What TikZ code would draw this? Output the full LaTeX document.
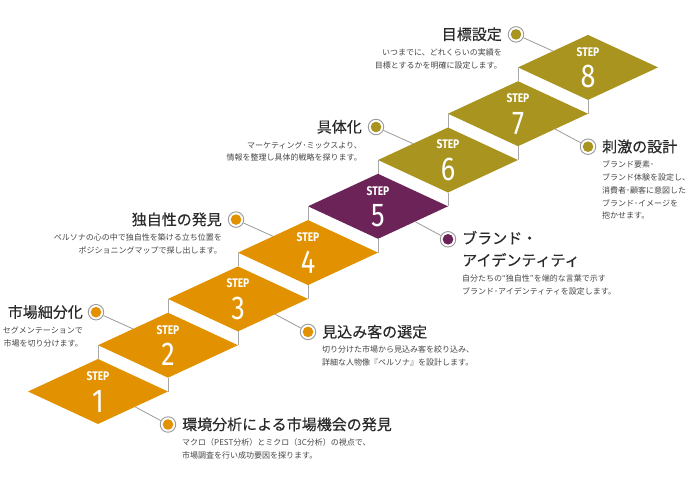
\documentclass[tikz,border=0pt]{standalone}
\usepackage{fontspec}
\setmainfont{Noto Sans CJK JP}
\newfontfamily\ttlfont[FakeBold=0.35]{Noto Sans CJK JP}
\newfontfamily\stepfont[FakeStretch=0.82]{Fira Sans}
\definecolor{orng}{HTML}{E29200}
\definecolor{purp}{HTML}{6C2358}
\definecolor{olive}{HTML}{A8941F}
\definecolor{linegray}{HTML}{9A9A9A}
\definecolor{risergray}{HTML}{A8A8A8}
\definecolor{txtdark}{HTML}{2A2A2A}
\definecolor{txtgray}{HTML}{444444}
\begin{document}
\begin{tikzpicture}[x=1pt,y=-1pt,
  conn/.style={draw=linegray, line width=0.8pt},
  riser/.style={draw=risergray, line width=0.8pt},
  ring/.style={circle, draw=linegray, line width=0.9pt, fill=white, minimum size=15.5pt, inner sep=0pt},
  ttl/.style={font=\ttlfont\fontsize{15}{22}\selectfont, text=txtdark, inner sep=0pt},
  dsc/.style={font=\fontsize{8}{12.8}\selectfont, text=txtgray, inner sep=0pt},
  steplbl/.style={font=\stepfont\bfseries\fontsize{12.5}{12.5}\selectfont, text=white, inner sep=0pt},
  stepnum/.style={font=\stepfont\fontsize{33}{33}\selectfont, text=white, inner sep=0pt}]
\useasboundingbox (0,0) rectangle (690,490);
\foreach \n/\c in {1/orng,2/orng,3/orng,4/orng,5/purp,6/olive,7/olive,8/olive}{
  \pgfmathsetmacro\cx{98+70*(\n-1)}
  \pgfmathsetmacro\cy{391.5-46.3*(\n-1)}
  \fill[\c] (\cx-70,\cy) -- (\cx,\cy-32.5) -- (\cx+70,\cy) -- (\cx,\cy+32.5) -- cycle;
  \node[steplbl] (s\n) at (\cx,\cy-15.5) {STEP};
  \node[stepnum] (n\n) at (\cx,\cy+9.5) {\n};
  \ifnum\n>1
    \draw[riser] (\cx-70,\cy) -- (\cx-70,\cy+13.8);
    \draw[riser] (\cx,\cy+32.5) -- (\cx,\cy+46.3);
  \fi
  \ifodd\n
    \coordinate (e\n) at (\cx+37,\cy+15.3);
  \else
    \coordinate (e\n) at (\cx-35,\cy-16.3);
  \fi
}
% callout rings
\node[ring] (k1) at (168,424.5) {};
\node[ring] (k2) at (96,312.2) {};
\node[ring] (k3) at (308,331.9) {};
\node[ring] (k4) at (236,219.6) {};
\node[ring] (k5) at (448,239.3) {};
\node[ring] (k6) at (376,127) {};
\node[ring] (k7) at (588,146.7) {};
\node[ring] (k8) at (516,34.4) {};
\foreach \n/\c in {1/orng,2/orng,3/orng,4/orng,5/purp,6/olive,7/olive,8/olive}{
  \fill[\c] (k\n.center) circle (5.3pt);
  \draw[conn] (e\n) -- (k\n);
}
% step 1
\node[ttl, anchor=base west] (t1) at (182,430) {環境分析による市場機会の発見};
\node[dsc, anchor=base west, align=left] (d1) at (182,458.3) {マクロ（PEST分析）とミクロ（3C分析）の視点で、\\市場調査を行い成功要因を探ります。};
% step 2
\node[ttl, anchor=base east] (t2) at (83,317.7) {市場細分化};
\node[dsc, anchor=base east, align=right] (d2) at (83,346) {セグメンテーションで\\市場を切り分けます。};
% step 3
\node[ttl, anchor=base west] (t3) at (322,337.4) {見込み客の選定};
\node[dsc, anchor=base west, align=left] (d3) at (322,365.7) {切り分けた市場から見込み客を絞り込み、\\詳細な人物像『ペルソナ』を設計します。};
% step 4
\node[ttl, anchor=base east] (t4) at (222,225.1) {独自性の発見};
\node[dsc, anchor=base east, align=right] (d4) at (222,253.4) {ペルソナの心の中で独自性を築ける立ち位置を\\ポジショニングマップで探し出します。};
% step 5
\node[ttl, anchor=base west, align=left] (t5) at (462,265.8) {ブランド・\\アイデンティティ};
\node[dsc, anchor=base west, align=left] (d5) at (462,294.3) {自分たちの“独自性”を端的な言葉で示す\\ブランド･アイデンティティを設定します。};
% step 6
\node[ttl, anchor=base east] (t6) at (362,132.5) {具体化};
\node[dsc, anchor=base east, align=right] (d6) at (362,160.8) {マーケティング･ミックスより、\\情報を整理し具体的戦略を探ります。};
% step 7
\node[ttl, anchor=base west] (t7) at (602,152.2) {刺激の設計};
\node[dsc, anchor=base west, align=left] (d7) at (602,218.9) {ブランド要素･\\ブランド体験を設定し、\\消費者･顧客に意図した\\ブランド･イメージを\\抱かせます。};
% step 8
\node[ttl, anchor=base east] (t8) at (502,39.9) {目標設定};
\node[dsc, anchor=base east, align=right] (d8) at (502,68.2) {いつまでに、どれくらいの実績を\\目標とするかを明確に設定します。};
\end{tikzpicture}
\end{document}
